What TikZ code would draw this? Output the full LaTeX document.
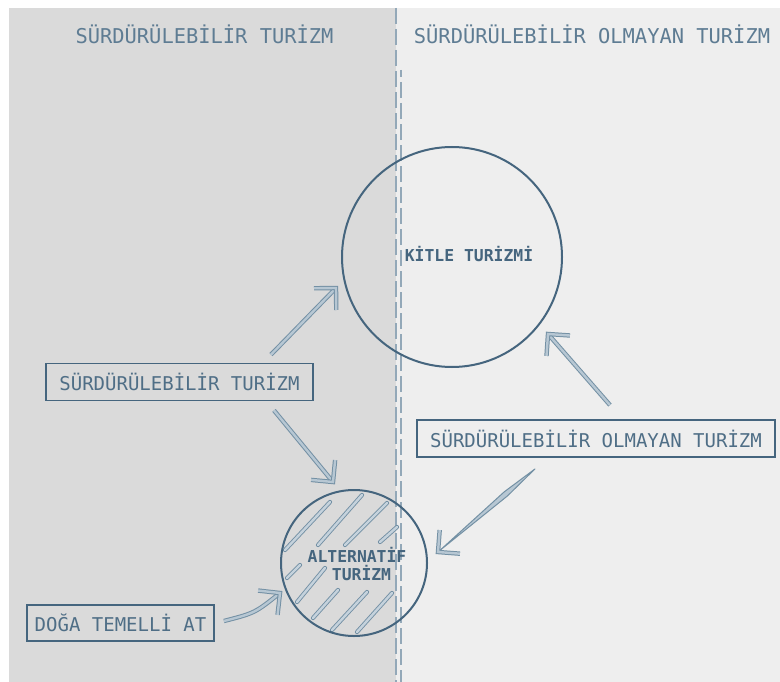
\documentclass[tikz,border=0pt]{standalone}
\usepackage{fontspec}
\newfontfamily\hand{DejaVu Sans Mono}
\usetikzlibrary{calc}
\definecolor{leftbg}{HTML}{DADADA}
\definecolor{rightbg}{HTML}{EEEEEE}
\definecolor{ink}{HTML}{45657E}
\definecolor{txt}{HTML}{4F6E86}
\definecolor{hdr}{HTML}{5E7C93}
\definecolor{arrline}{HTML}{7390A4}
\definecolor{arrfill}{HTML}{B7C7D3}
\definecolor{dashc}{HTML}{93A8B8}
\newcommand\dblarrow[2]{%
  \draw[dbl] (#1) -- (#2);
  \draw[dbl] ($(#2)!22bp!45:(#1)$) -- (#2) -- ($(#2)!22bp!-45:(#1)$);
}
\begin{document}
\begin{tikzpicture}[x=1bp,y=-1bp,
  header/.style={font=\hand\fontsize{20.4bp}{24bp}\selectfont, text=hdr, inner sep=0, anchor=base},
  labelbox/.style={draw=ink, line width=1.8bp, font=\hand\fontsize{19bp}{23bp}\selectfont, text=txt, inner sep=0, minimum height=37bp},
  ring/.style={circle, draw=ink, line width=2bp, inner sep=0},
  ringtext/.style={font=\hand\bfseries\fontsize{16.4bp}{20bp}\selectfont, text=ink, inner sep=0, anchor=base},
  dbl/.style={draw=arrline, double=arrfill, line width=1bp, double distance=2.4bp, line join=miter, line cap=butt},
  hatch/.style={draw=arrline, double=arrfill!80!white, line width=0.9bp, double distance=2.4bp, line cap=round},
  divider/.style={draw=dashc, line width=1.2bp, dash pattern=on 16bp off 5bp}
]
% background
\fill[white] (0,0) rectangle (780,682);
\fill[leftbg] (9,8) rectangle (396,682);
\fill[rightbg] (396,8) rectangle (780,682);
\useasboundingbox (0,0) rectangle (780,682);

% divider
\draw[divider] (396,8) -- (396,682);
\draw[divider, dash phase=9bp] (401,70) -- (401,682);

% headers
\node[header] (hl) at (204.5,44) {SÜRDÜRÜLEBİLİR TURİZM};
\node[header] (hr) at (592,44) {SÜRDÜRÜLEBİLİR OLMAYAN TURİZM};

% hatching of the small circle
\foreach \a/\b/\c/\d in {285/550/330/502, 318/545/362/495, 345/545/387/503,
  380/542/397/527, 287/578/300/565, 297/602/325/568, 313/618/338/590,
  332/630/367/592, 357/632/392/593}
  \draw[hatch] (\a,\b) -- (\c,\d);

% circles
\node[ring, minimum size=220bp] (kitle) at (452,257) {};
\node[ring, minimum size=146bp] (alt) at (354,563) {};
\node[ringtext] (kitlelbl) at (469,261) {KİTLE TURİZMİ};
\node[ringtext] (altlbl1) at (357,562.5) {ALTERNATİF};
\node[ringtext] (altlbl2) at (361.5,580.5) {TURİZM};

% boxes
\node[labelbox, minimum width=267bp] (box1) at (179.5,382) {SÜRDÜRÜLEBİLİR TURİZM};
\node[labelbox, minimum width=358bp] (box2) at (596,438.5) {SÜRDÜRÜLEBİLİR OLMAYAN TURİZM};
\node[labelbox, minimum width=187bp, minimum height=36bp] (box3) at (120.5,623) {DOĞA TEMELLİ AT};

% arrows
\coordinate (a1s) at ([shift={(91.5,-8)}]box1.north);
\coordinate (a1t) at ([shift={(-116,31)}]kitle.center);
\dblarrow{a1s}{a1t}

\coordinate (a2s) at ([shift={(94.5,9)}]box1.south);
\coordinate (a2t) at ([shift={(-21,-81)}]alt.center);
\dblarrow{a2s}{a2t}

\coordinate (a3s) at ([shift={(14,-14)}]box2.north);
\coordinate (a3t) at ([shift={(96,77)}]kitle.center);
\dblarrow{a3s}{a3t}

% tapered arrow
\coordinate (a4s) at ([shift={(-61,11)}]box2.south);
\coordinate (a4t) at ([shift={(84,-11)}]alt.center);
\coordinate (a4m) at ($(a4s)!0.3!(a4t)$);
\filldraw[draw=arrline, fill=arrfill, line width=1bp, line join=round]
  (a4s) -- ($(a4m)!2.6bp!90:(a4t)$) -- ($(a4t)!2bp!(a4s)$) -- ($(a4m)!2.6bp!-90:(a4t)$) -- cycle;
\draw[dbl] ($(a4t)!22bp!45:(a4s)$) -- (a4t) -- ($(a4t)!22bp!-45:(a4s)$);

% curved arrow
\coordinate (a5s) at ([shift={(9,-2)}]box3.east);
\coordinate (a5t) at ([shift={(-74,30)}]alt.center);
\coordinate (a5c) at ($(a5s)!0.5!(a5t)+(3,6)$);
\draw[dbl] (a5s) .. controls (a5c) .. (a5t);
\draw[dbl] ($(a5t)!22bp!45:(a5c)$) -- (a5t) -- ($(a5t)!22bp!-45:(a5c)$);
\end{tikzpicture}
\end{document}
